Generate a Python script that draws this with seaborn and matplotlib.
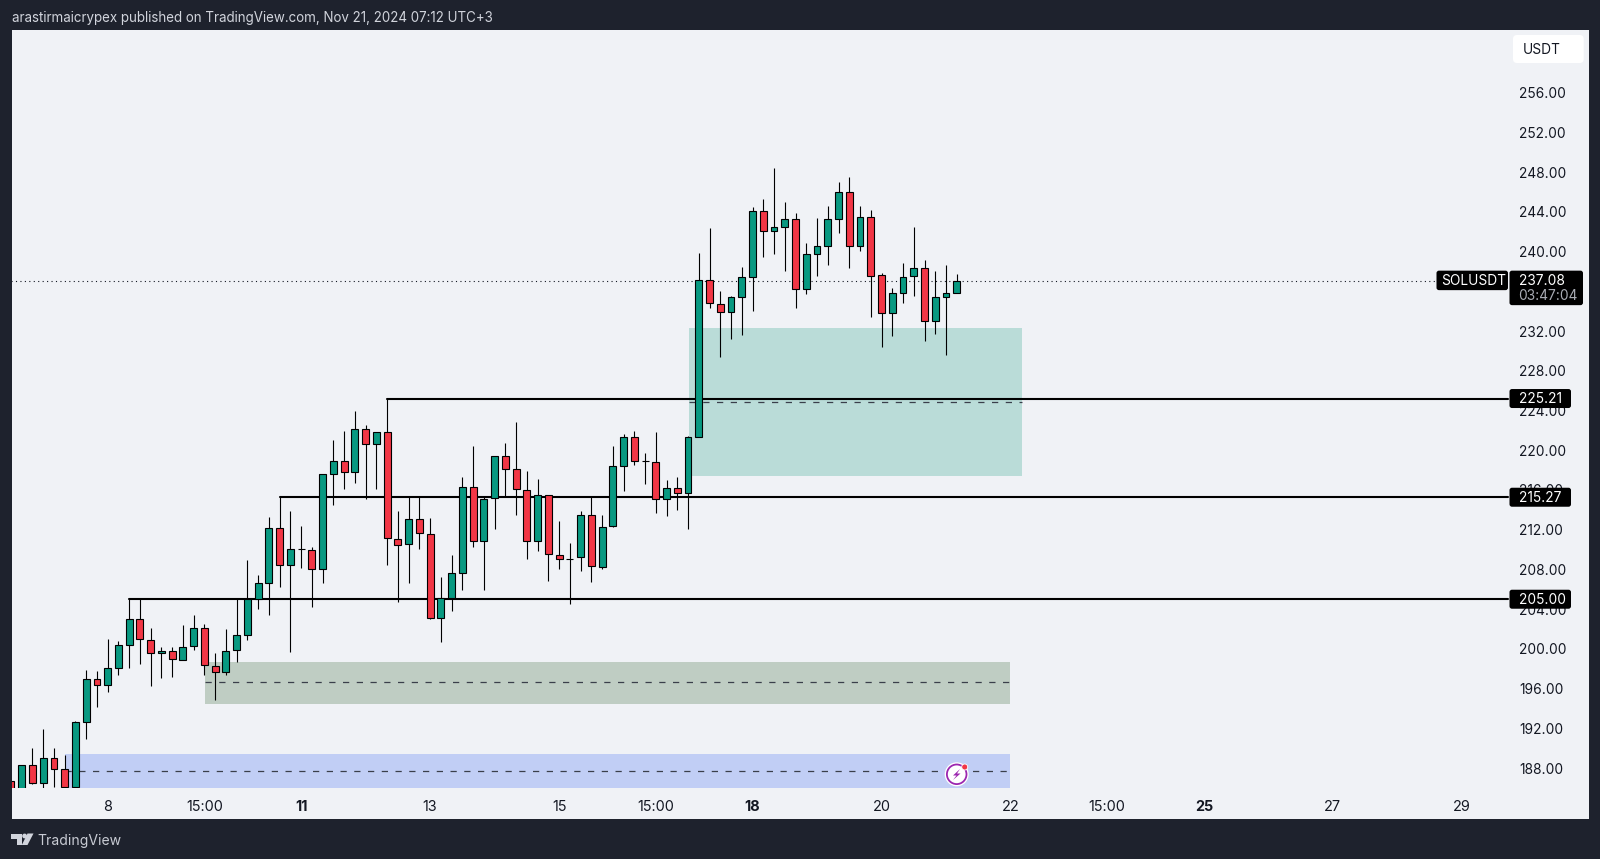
# SOLUSDT 4h candle chart, TradingView screenshot style
import matplotlib
matplotlib.use('Agg')
import matplotlib.pyplot as plt
import matplotlib.transforms as mtransforms
from matplotlib.patches import Rectangle, FancyBboxPatch, Circle, Polygon
import pandas as pd
import seaborn as sns

opens = [186.66, 185.80, 188.31, 186.53, 189.01, 187.94, 186.06, 192.67, 196.97, 196.33,
         198.11, 200.43, 203.01, 200.90, 199.55, 199.76, 198.92, 200.29, 202.07, 198.31,
         197.71, 199.89, 201.40, 204.99, 206.60, 212.14, 208.45, 210.03, 209.93, 208.01,
         217.65, 218.92, 217.78, 222.11, 220.63, 221.84, 211.07, 210.56, 213.11, 211.60,
         203.14, 205.16, 207.68, 216.34, 210.83, 215.16, 219.39, 218.08, 216.00, 210.83,
         215.53, 209.49, 209.02, 209.22, 213.48, 208.28, 212.38, 218.45, 221.30, 218.89,
         218.85, 215.06, 216.20, 215.66, 221.37, 237.18, 234.76, 233.92, 235.40, 237.48,
         244.13, 242.08, 242.52, 243.26, 236.27, 239.80, 240.61, 243.32, 246.04, 240.61,
         243.49, 237.62, 233.86, 235.87, 237.55, 238.32, 232.98, 235.47, 235.80]
highs = [186.70, 188.35, 190.02, 191.90, 190.02, 189.28, 192.77, 197.84, 197.81, 201.03,
         200.76, 204.99, 204.99, 202.07, 200.16, 200.23, 202.44, 203.45, 202.51, 199.62,
         201.97, 204.99, 208.95, 207.41, 213.28, 215.27, 213.92, 212.38, 210.23, 217.60,
         221.00, 221.94, 223.99, 222.58, 221.84, 225.21, 213.92, 215.26, 215.43, 213.22,
         207.27, 209.42, 217.28, 220.47, 215.40, 219.39, 220.70, 222.82, 217.95, 217.08,
         215.53, 212.85, 210.66, 213.92, 215.26, 213.48, 220.47, 221.64, 221.94, 219.76,
         221.81, 217.01, 217.31, 221.47, 239.90, 242.35, 236.04, 235.57, 238.42, 244.47,
         245.27, 248.46, 245.04, 243.93, 240.87, 243.39, 244.63, 247.02, 247.49, 244.57,
         244.23, 237.89, 236.34, 238.83, 242.52, 239.13, 238.09, 238.69, 237.72]
lows = [185.20, 185.50, 186.39, 185.90, 186.06, 185.90, 185.90, 190.93, 194.15, 195.69,
        197.40, 198.11, 198.45, 196.23, 197.10, 197.20, 198.88, 199.89, 197.40, 194.85,
        197.40, 198.65, 200.93, 204.02, 203.45, 206.27, 199.72, 208.15, 204.22, 206.67,
        214.49, 216.07, 216.67, 215.06, 216.07, 208.48, 204.69, 206.67, 210.06, 203.04,
        200.69, 203.85, 205.96, 210.29, 205.96, 212.07, 215.26, 213.52, 209.05, 209.86,
        206.80, 208.05, 204.49, 207.81, 206.74, 208.05, 212.31, 215.90, 218.48, 216.64,
        213.72, 213.35, 214.02, 212.10, 221.37, 234.29, 229.43, 231.24, 231.61, 234.03,
        239.43, 239.77, 238.09, 234.29, 235.70, 237.55, 238.66, 241.88, 238.39, 240.10,
        233.46, 230.43, 231.47, 234.83, 235.54, 230.97, 231.74, 229.63, 235.80]
closes = [185.60, 188.31, 186.53, 189.01, 187.94, 186.06, 192.64, 196.97, 196.33, 198.08,
          200.36, 203.01, 200.96, 199.55, 199.79, 198.98, 200.16, 202.07, 198.35, 197.71,
          199.82, 201.37, 204.99, 206.60, 212.14, 208.45, 210.03, 210.06, 208.01, 217.58,
          218.92, 217.78, 222.11, 220.63, 221.84, 211.13, 210.50, 213.11, 211.64, 203.14,
          205.16, 207.64, 216.34, 210.83, 215.13, 219.39, 218.15, 216.07, 210.83, 215.53,
          209.56, 209.05, 209.09, 213.48, 208.31, 212.31, 218.42, 221.31, 218.89, 218.95,
          215.06, 216.23, 215.66, 221.30, 237.18, 234.80, 233.92, 235.40, 237.42, 244.13,
          242.08, 242.45, 243.26, 236.27, 239.77, 240.57, 243.26, 246.04, 240.61, 243.49,
          237.58, 233.86, 235.84, 237.48, 238.32, 232.98, 235.44, 235.80, 237.08]

# price scale and time scale
price_ticks = list(range(188, 260, 4))
time_tick_pos = [9, 18, 27, 39, 51, 60, 69, 81, 93, 102, 111, 123, 135]
time_tick_labels = ['8', '15:00', '11', '13', '15', '15:00', '18', '20', '22', '15:00', '25', '27', '29']
bold_labels = ['11', '18', '25']

# horizontal levels drawn by hand on the chart
level_prices = [225.21, 215.27, 205.00]
level_starts = [35, 25, 11]
level_end = 139.27
last_price = 237.08
last_price_end = 132.6

# shaded zones: left, right, bottom, top, midline
zone_left = [5.03, 18.06, 63.1]
zone_right = [92.96, 92.96, 94.03]
zone_bottom = [185.9, 194.48, 217.44]
zone_top = [189.38, 198.68, 232.31]
zone_mid = [187.70, 196.63, 224.86]
zone_colors = ['#C1CEF5', '#BFCDC3', '#BADCD8']

DARK = '#1E222D'
PANEL = '#F0F2F6'
GREEN = '#089981'
RED = '#F23645'
FONT = 'Inter'
FS = 9.9

sns.set_theme(style='white')
plt.rcParams['font.family'] = [FONT, 'DejaVu Sans']

fig = plt.figure(figsize=(16, 8.59), dpi=100, facecolor=DARK)
ax = fig.add_axes([11.5 / 1600, 1 - 788.3 / 859, (1588.7 - 11.5) / 1600, (788.3 - 30.3) / 859])
ax.set_facecolor(PANEL)

# pixel coordinates from the top left of the figure, for the screenshot furniture
px = mtransforms.Affine2D().scale(1 / 1600, -1 / 859).translate(0, 1) + fig.transFigure
fig.add_artist(Rectangle((11.5, 787), 1577.2, 32.3, transform=px, facecolor=PANEL, edgecolor='none', zorder=-1))

df = pd.DataFrame({'idx': range(len(opens)), 'open': opens, 'high': highs, 'low': lows, 'close': closes})
df['bottom'] = df[['open', 'close']].min(axis=1)
df['height'] = (df['close'] - df['open']).abs()
df['up'] = df['close'] >= df['open']

for l, r, b, t, m, c in zip(zone_left, zone_right, zone_bottom, zone_top, zone_mid, zone_colors):
    ax.add_patch(Rectangle((l, b), r - l, t - b, facecolor=c, edgecolor='none', zorder=1))
    ax.plot([l, r], [m, m], color='#3A3F4B', lw=0.9, ls=(0, (5, 6)), zorder=1.5)

ax.plot([0, last_price_end], [last_price, last_price], color='#131722', lw=0.8, ls=(0, (1, 3)), zorder=1.5)
for price, start in zip(level_prices, level_starts):
    ax.plot([start, level_end], [price, price], color='#000000', lw=1.5, zorder=2)

ax.vlines(df['idx'], df['low'], df['high'], color='#000000', lw=0.8, zorder=2.5)

# candle bodies, one barplot per colour, native_scale keeps the index positions
for is_up, col in [(True, GREEN), (False, RED)]:
    sub = df[df['up'] == is_up]
    sns.barplot(data=sub, x='idx', y='height', bottom=sub['bottom'].values, native_scale=True,
                color=col, saturation=1, width=0.64, errorbar=None, edgecolor='#000000',
                linewidth=0.8, zorder=3, ax=ax)

ax.set_xlim(0.05, 146.8)
ax.set_ylim(185.96, 262.29)
ax.set_xlabel('')
ax.set_ylabel('')
sns.despine(ax=ax, left=True, bottom=True)

ax.yaxis.tick_right()
ax.set_yticks(price_ticks)
ax.set_yticklabels([f'{p:.2f}' for p in price_ticks])
ax.tick_params(axis='y', length=0, pad=-50.2, labelsize=FS, labelcolor='#131722')
ax.set_xticks(time_tick_pos)
ax.set_xticklabels(time_tick_labels)
ax.tick_params(axis='x', length=0, pad=8.3, labelsize=10.4, labelcolor='#131722')
for lab in ax.get_xticklabels():
    if lab.get_text() in bold_labels:
        lab.set_fontweight('bold')


def price_y(price):
    # figure pixel y of a price, top-down
    return 859 - ax.transData.transform((0, price))[1]


def box(x, y, w, h, color, radius=2.5):
    fig.add_artist(FancyBboxPatch((x + radius, y + radius), w - 2 * radius, h - 2 * radius,
                                  boxstyle=f'round,pad={radius},rounding_size={radius}',
                                  transform=px, facecolor=color, edgecolor='none', zorder=5))


def label(x, y, s, color='white', size=FS, **kw):
    fig.text(x, y, s, transform=px, color=color, fontsize=size, va='center', ha='left', zorder=6, **kw)


# level tags on the price scale
for price in level_prices:
    y = price_y(price)
    box(1509.5, y - 9.5, 61.5, 19, '#000000')
    label(1518.5, y + 0.8, f'{price:.2f}')

# last price tags
y = price_y(last_price)
box(1436.5, y - 10, 71.5, 19.5, '#000000')
label(1441.5, y + 0.8, 'SOLUSDT')
box(1509.5, y - 10, 73.5, 34.5, '#000000')
label(1518.5, y + 0.8, f'{last_price:.2f}')
label(1518.5, y + 15.8, '03:47:04', color='#A8ABB3')

# currency button
box(1513, 35, 70.7, 28, '#FFFFFF', radius=4)
label(1523, 49.5, 'USDT', color='#131722')

# header and footer
label(11.5, 18, 'arastirmaicrypex published on TradingView.com, Nov 21, 2024 07:12 UTC+3', color='#D1D4DC', size=9.63)
label(37.5, 840.5, 'TradingView', color='#C8CBD3', size=10.1)
logo = '#D1D4DC'
fig.add_artist(Polygon([(11, 833.5), (21.5, 833.5), (21.5, 845), (16.5, 845), (16.5, 838.5), (11, 838.5)],
                       transform=px, facecolor=logo, edgecolor='none', zorder=6))
fig.add_artist(Circle((24.6, 836), 2.4, transform=px, facecolor=logo, edgecolor='none', zorder=6))
fig.add_artist(Polygon([(27.5, 833.5), (33.5, 833.5), (27.5, 845), (21.8, 845)],
                       transform=px, facecolor=logo, edgecolor='none', zorder=6))

# lightning badge sitting on the blue zone
fig.add_artist(Circle((956.7, 774.3), 12, transform=px, facecolor='#FFFFFF', edgecolor='none', zorder=6))
fig.add_artist(Circle((956.7, 774.3), 9.8, transform=px, facecolor='#FFFFFF', edgecolor='#9C27B0', lw=1.3, zorder=6))
fig.add_artist(Polygon([(960, 769), (953, 775.5), (956.5, 775.5), (953, 780), (960.5, 773.5), (957, 773.5)],
                       transform=px, facecolor='#9C27B0', edgecolor='none', zorder=7))
fig.add_artist(Circle((964.7, 767), 3, transform=px, facecolor='#F23645', edgecolor='#FFFFFF', lw=0.6, zorder=7))

fig.savefig('out.png', dpi=100, facecolor=DARK)
